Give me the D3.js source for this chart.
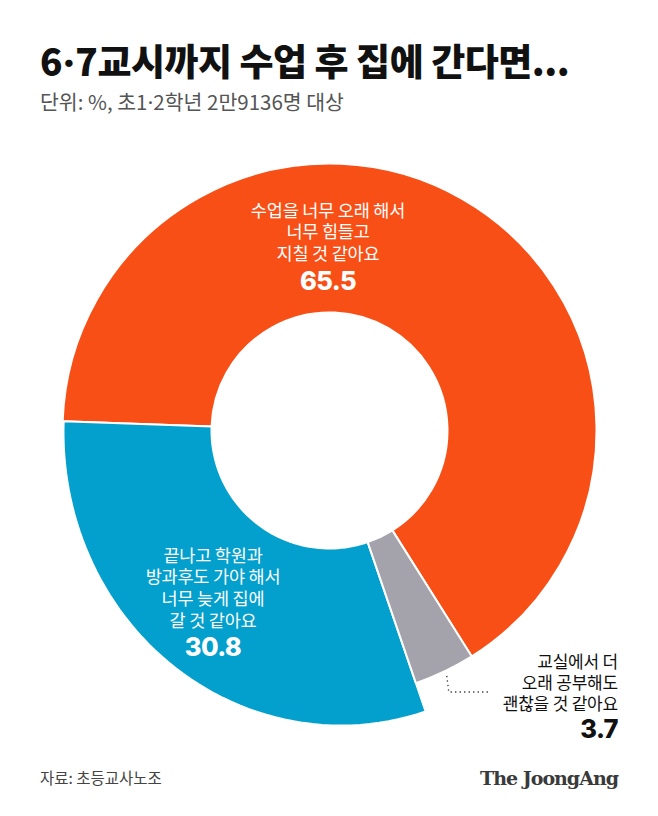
<!DOCTYPE html>
<html>
<head>
<meta charset="utf-8">
<script src="https://cdn.jsdelivr.net/npm/d3@7"></script>
<style>
  body { margin: 0; background: #fff; }
</style>
</head>
<body>
<svg id="chart"></svg>
<script>
// answers, in the order they go round the donut (counter-clockwise from the gray/orange edge)
var categories = ["힘들고 지칠 것", "늦게 집에 갈 것", "괜찮을 것"];
var values = [65.5, 30.8, 3.7];
var labelLines = [
    ["수업을 너무 오래 해서", "너무 힘들고", "지칠 것 같아요"],
    ["끝나고 학원과", "방과후도 가야 해서", "너무 늦게 집에", "갈 것 같아요"],
    ["교실에서 더", "오래 공부해도", "괜찮을 것 같아요"]
];
var valueLabels = ["65.5", "30.8", "3.7"];

// title and subtitle pieces (the middle dot is set in a latin font so it stays narrow)
var titleParts = ["6", "·", "7교시까지 수업 후 집에 간다면..."];
var subtitleParts = ["단위: %, 초1", "·", "2학년 2만9136명 대상"];
var source = "자료: 초등교사노조";
var brand = "The JoongAng";

var KR = "'Noto Sans CJK KR', 'Noto Sans', sans-serif";
var LATIN = "Inter, Roboto, 'Noto Sans', sans-serif";

// size of the page
var screen = {width: 658, height: 816};
var center = {x: 329.5, y: 430.5};
var innerR = 118;
var outerR = 267;

var color = d3.scaleOrdinal()
    .domain(categories)
    .range(["#F84F17", "#03A0CD", "#A4A3AB"]);

var svg = d3.select("#chart")
    .attr("width", screen.width)
    .attr("height", screen.height);

svg.append("rect")
    .attr("width", screen.width)
    .attr("height", screen.height)
    .attr("fill", "#fff");

// writes a line made of pieces, the dot piece in the latin font
var partsText = function(parts, x, y, size, weight, fill, spacing)
{
    var t = svg.append("text")
        .attr("x", x)
        .attr("y", y)
        .attr("fill", fill)
        .style("font-size", size + "px")
        .style("font-weight", weight)
        .style("letter-spacing", spacing + "px")
        .style("font-family", KR);
    parts.forEach(function(p)
    {
        t.append("tspan")
            .style("font-family", p == "·" ? LATIN : KR)
            .text(p);
    });
    return t;
}

partsText(titleParts, 40, 76, 37, 900, "#111", -0.5);
partsText(subtitleParts, 40, 110, 20.5, 400, "#555", 0);

// pie goes counter-clockwise, starting at the gray/orange edge
var start = 147.8 * Math.PI / 180;
var pie = d3.pie()
    .sort(null)
    .value(function(d) { return d; })
    .startAngle(start)
    .endAngle(start - 2 * Math.PI);

var arcs = pie(values);

var arc = d3.arc()
    .innerRadius(innerR)
    .outerRadius(outerR);

var g = svg.append("g")
    .attr("transform", "translate(" + center.x + "," + center.y + ")");

// the blue slice swells out towards the bottom in the original, so it gets
// an outer radius that eases from the orange edge to the gray edge
var swell = d3.scaleLinear().domain([0, 1]).range([297, outerR - 1]);

var drawSlice = function(d, i)
{
    if (i != 1)
    {
        return arc(d);
    }
    var steps = 60;
    var angles = d3.range(steps + 1).map(function(k)
    {
        return d.endAngle + (d.startAngle - d.endAngle) * k / steps;
    });
    var area = d3.areaRadial()
        .angle(function(a) { return a; })
        .innerRadius(innerR)
        .outerRadius(function(a)
        {
            var t = (a - d.endAngle) / (d.startAngle - d.endAngle);
            return swell(d3.easeSinInOut(t));
        });
    return area(angles) + "Z";
}

g.selectAll("path.slice")
    .data(arcs)
    .enter()
    .append("path")
    .classed("slice", true)
    .attr("d", drawSlice)
    .attr("fill", function(d, i) { return color(categories[i]); })
    .attr("stroke", "#fff")
    .attr("stroke-width", 2)
    .attr("stroke-linejoin", "round");

// labels inside the slices
var labelPos = [
    {x: 328, y: 216.5, anchor: "middle", fill: "#fff", size: 17.5},
    {x: 213, y: 561.5, anchor: "middle", fill: "#fff", size: 17.5},
    {x: 618, y: 667.5, anchor: "end", fill: "#111", size: 17}
];
var lineGap = [21.8, 21.8, 21];

labelLines.forEach(function(lines, i)
{
    var p = labelPos[i];
    lines.forEach(function(line, k)
    {
        svg.append("text")
            .attr("x", p.x)
            .attr("y", p.y + k * lineGap[i])
            .attr("text-anchor", p.anchor)
            .attr("fill", p.fill)
            .style("font-family", KR)
            .style("font-size", p.size + "px")
            .style("letter-spacing", "-0.2px")
            .text(line);
    });
    svg.append("text")
        .attr("x", p.x)
        .attr("y", p.y + (lines.length - 1) * lineGap[i] + (i == 2 ? 28 : 29.5))
        .attr("text-anchor", p.anchor)
        .attr("fill", p.fill)
        .style("font-family", LATIN)
        .style("font-size", "25.5px")
        .style("font-weight", 800)
        .style("letter-spacing", "-0.6px")
        .text(valueLabels[i]);
});

// dotted leader from the gray slice to its label
var gray = arcs[2];
var mid = (gray.startAngle + gray.endAngle) / 2;
var lx = center.x + (outerR + 5) * Math.sin(mid);
var ly = center.y - (outerR + 5) * Math.cos(mid);
svg.append("path")
    .attr("d", d3.line()([[lx, ly], [lx + 2, 692], [490, 692]]))
    .attr("fill", "none")
    .attr("stroke", "#333")
    .attr("stroke-width", 1.3)
    .attr("stroke-dasharray", "1.3,3.2");

// footer
svg.append("text")
    .attr("x", 40)
    .attr("y", 784)
    .attr("fill", "#444")
    .style("font-family", KR)
    .style("font-size", "15.5px")
    .text(source);

svg.append("text")
    .attr("x", 618)
    .attr("y", 785)
    .attr("text-anchor", "end")
    .attr("fill", "#3a3a3a")
    .style("font-family", "'DejaVu Serif', 'Liberation Serif', serif")
    .style("font-size", "19px")
    .style("font-weight", 700)
    .style("letter-spacing", "-1px")
    .text(brand);
</script>
</body>
</html>
